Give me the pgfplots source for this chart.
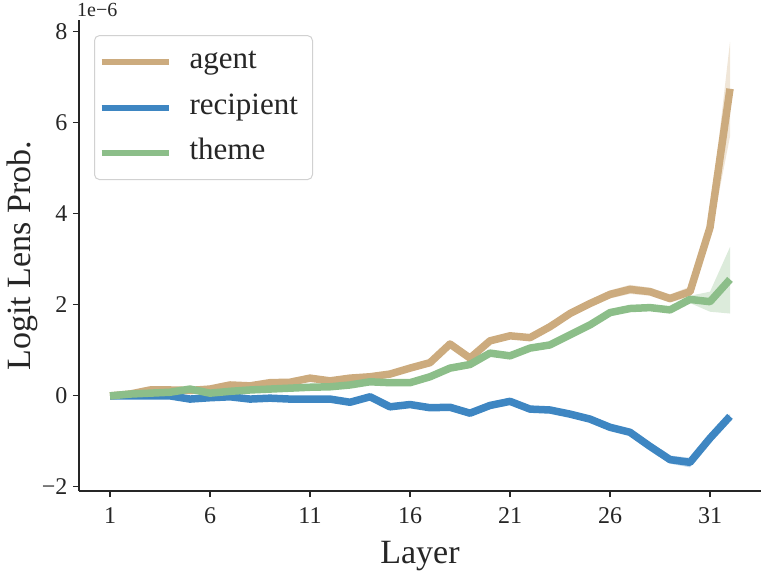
\documentclass[border=0pt]{standalone}
\usepackage{fontspec}
\setmainfont{Liberation Serif}
\usepackage{pgfplots}
\pgfplotsset{compat=1.18}
\usepackage{pgfplotstable}
\usepgfplotslibrary{fillbetween}
\definecolor{cA}{RGB}{204,171,126}
\definecolor{cR}{RGB}{62,134,194}
\definecolor{cT}{RGB}{140,190,137}
\definecolor{spine}{RGB}{38,38,38}

\pgfplotstableread{
L  a     alo   ahi   r      rlo    rhi    t     tlo   thi
1  0.00  -0.02 0.02  0.00   -0.02  0.02   0.00  -0.02 0.02
2  0.04  0.02  0.06  0.00   -0.02  0.02   0.04  0.02  0.06
3  0.13  0.11  0.15  0.00   -0.02  0.02   0.06  0.04  0.08
4  0.13  0.11  0.15  0.00   -0.02  0.02   0.08  0.06  0.10
5  0.12  0.10  0.14  -0.07  -0.09  -0.05  0.15  0.13  0.17
6  0.15  0.13  0.17  -0.04  -0.06  -0.02  0.06  0.04  0.08
7  0.24  0.22  0.26  -0.02  -0.04  0.00   0.10  0.08  0.12
8  0.22  0.20  0.24  -0.07  -0.09  -0.05  0.13  0.11  0.15
9  0.29  0.27  0.31  -0.05  -0.07  -0.03  0.15  0.13  0.17
10 0.30  0.28  0.32  -0.07  -0.09  -0.05  0.17  0.15  0.19
11 0.39  0.37  0.41  -0.07  -0.09  -0.05  0.19  0.17  0.21
12 0.33  0.31  0.35  -0.07  -0.09  -0.05  0.20  0.18  0.22
13 0.39  0.37  0.41  -0.14  -0.16  -0.12  0.24  0.22  0.26
14 0.42  0.40  0.44  -0.02  -0.04  0.00   0.31  0.29  0.33
15 0.48  0.46  0.50  -0.24  -0.26  -0.22  0.29  0.27  0.31
16 0.61  0.59  0.63  -0.19  -0.21  -0.17  0.29  0.27  0.31
17 0.73  0.71  0.75  -0.26  -0.28  -0.24  0.42  0.40  0.44
18 1.14  1.10  1.18  -0.25  -0.27  -0.23  0.61  0.59  0.63
19 0.83  0.80  0.86  -0.38  -0.40  -0.36  0.69  0.67  0.71
20 1.21  1.17  1.25  -0.21  -0.23  -0.19  0.94  0.92  0.96
21 1.32  1.27  1.37  -0.12  -0.14  -0.10  0.88  0.86  0.90
22 1.28  1.23  1.33  -0.29  -0.31  -0.27  1.05  1.03  1.07
23 1.52  1.46  1.58  -0.31  -0.34  -0.28  1.12  1.08  1.16
24 1.81  1.74  1.88  -0.40  -0.44  -0.36  1.34  1.29  1.39
25 2.03  1.95  2.11  -0.51  -0.55  -0.47  1.56  1.50  1.62
26 2.23  2.14  2.32  -0.69  -0.74  -0.64  1.83  1.76  1.90
27 2.34  2.24  2.44  -0.80  -0.86  -0.74  1.92  1.85  1.99
28 2.29  2.20  2.38  -1.11  -1.19  -1.03  1.94  1.87  2.01
29 2.14  2.05  2.23  -1.40  -1.49  -1.31  1.89  1.82  1.96
30 2.29  2.18  2.40  -1.46  -1.57  -1.36  2.12  2.04  2.20
31 3.70  3.45  3.95  -0.93  -1.03  -0.83  2.07  1.85  2.29
32 6.75  5.70  7.78  -0.45  -0.50  -0.40  2.56  1.81  3.27
}\data

\begin{document}
\begin{tikzpicture}
\begin{axis}[
  at={(0pt,0pt)}, anchor=south west,
  scale only axis, width=682pt, height=471pt,
  xmin=-0.55, xmax=33.55, ymin=-2.09, ymax=8.26,
  clip mode=individual,
  axis lines*=left,
  axis line style={line width=1.3pt, color=spine, -},
  tick align=outside,
  major tick length=6pt,
  tick style={line width=1.1pt, color=spine},
  xtick={1,6,11,16,21,26,31},
  xticklabels={1,6,11,16,21,26,31},
  ytick={-2,0,2,4,6,8},
  yticklabels={−2,0,2,4,6,8},
  ticklabel style={font=\fontsize{24}{28}\selectfont, text=spine},
  xticklabel style={yshift=-7pt},
  yticklabel style={xshift=-2pt},
  xlabel={Layer},
  ylabel={Logit Lens Prob.},
  label style={font=\fontsize{34}{40}\selectfont, text=spine},
  xlabel style={at={(axis description cs:0.5,-0.1529)}, anchor=base},
  ylabel style={at={(axis description cs:-0.0836,0.5)}, anchor=center},
  legend cell align=left,
  legend image code/.code={\draw[#1, line width=6pt] (0pt,0pt) -- (67pt,0pt);},
  legend style={
    at={(0.022,0.968)}, anchor=north west,
    draw=black!18, line width=1pt, rounded corners=5pt,
    fill=white, fill opacity=0.8, text opacity=1,
    font=\fontsize{31}{36}\selectfont, text=spine,
    inner xsep=4pt, inner ysep=11pt,
    row sep=14.5pt,
    nodes={inner sep=0pt, text height=22pt, text depth=9pt},
    /tikz/every odd column/.append style={column sep=18pt},
    /tikz/every even column/.append style={text width=119pt},
  },
]
% agent
\addplot[draw=none, name path=aU, forget plot] table[x=L, y=ahi] {\data};
\addplot[draw=none, name path=aL, forget plot] table[x=L, y=alo] {\data};
\addplot[cA, fill opacity=0.3, draw opacity=0.3, forget plot] fill between[of=aU and aL];
\addplot[cA, line width=7.5pt, line join=round] table[x=L, y=a] {\data};
\addlegendentry{agent}
% recipient
\addplot[draw=none, name path=rU, forget plot] table[x=L, y=rhi] {\data};
\addplot[draw=none, name path=rL, forget plot] table[x=L, y=rlo] {\data};
\addplot[cR, fill opacity=0.3, draw opacity=0.3, forget plot] fill between[of=rU and rL];
\addplot[cR, line width=7.5pt, line join=round] table[x=L, y=r] {\data};
\addlegendentry{recipient}
% theme
\addplot[draw=none, name path=tU, forget plot] table[x=L, y=thi] {\data};
\addplot[draw=none, name path=tL, forget plot] table[x=L, y=tlo] {\data};
\addplot[cT, fill opacity=0.3, draw opacity=0.3, forget plot] fill between[of=tU and tL];
\addplot[cT, line width=7.5pt, line join=round] table[x=L, y=t] {\data};
\addlegendentry{theme}
\node[anchor=base west, font=\fontsize{20}{24}\selectfont, text=spine, inner sep=0pt, xshift=-2pt, yshift=4pt]
  at (rel axis cs:0,1) {1e−6};
\end{axis}
\pgfresetboundingbox
\useasboundingbox (-79pt,-80pt) rectangle (682pt,491pt);
\end{tikzpicture}
\end{document}
